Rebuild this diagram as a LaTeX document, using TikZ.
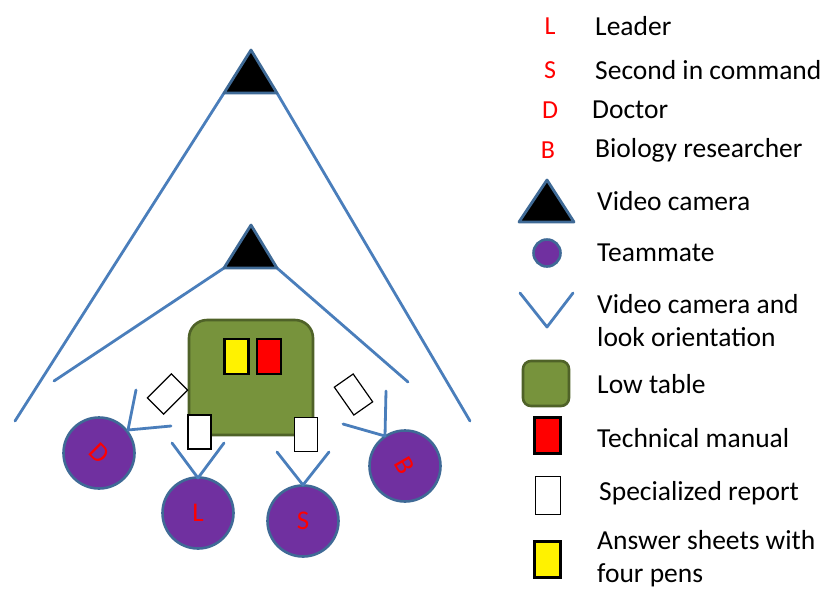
\documentclass[tikz,border=0pt]{standalone}
\usepackage{fontspec}
\setmainfont{Carlito}
\definecolor{lineblue}{HTML}{4A7EBB}
\definecolor{edgeblue}{HTML}{3F6A96}
\definecolor{mate}{HTML}{7030A0}
\definecolor{tablegreen}{HTML}{77933C}
\definecolor{tableedge}{HTML}{4F6228}
\tikzset{
  view/.style={draw=lineblue, line width=2.8pt, line cap=round, line join=round},
  cam/.style={fill=black, draw=edgeblue, line width=2.8pt, line join=round},
  mate/.style={circle, fill=mate, draw=edgeblue, line width=2.6pt, inner sep=0pt, text=red, font=\fontsize{27}{27}\selectfont},
  table/.style={rectangle, rounded corners=18pt, fill=tablegreen, draw=tableedge, line width=2.6pt, inner sep=0pt},
  book/.style={rectangle, draw=black, line width=2.8pt, inner sep=0pt, minimum width=24pt, minimum height=35pt},
  report/.style={rectangle, draw=black, line width=1.2pt, fill=white, inner sep=0pt, minimum width=23pt, minimum height=34pt},
  legtext/.style={anchor=west, font=\fontsize{27.5}{33}\selectfont, align=left, inner sep=0pt},
  legletter/.style={text=red, font=\fontsize{26}{26}\selectfont, inner sep=0pt}
}
\begin{document}
\begin{tikzpicture}[x=1pt,y=-1pt]
\useasboundingbox (0,0) rectangle (827,590);
% cameras and views
\coordinate (c1l) at (224,93); \coordinate (c1r) at (277,93); \coordinate (c1t) at (251,50);
\coordinate (v1l) at (15,421); \coordinate (v1r) at (470,421);
\coordinate (c2l) at (224,268); \coordinate (c2r) at (277,268); \coordinate (c2t) at (251,225);
\coordinate (v2l) at (54,381); \coordinate (v2r) at (408,382);
\draw[view] (v1l) -- (c1l); \draw[view] (c1r) -- (v1r);
\draw[view] (v2l) -- (c2l); \draw[view] (c2r) -- (v2r);
\draw[cam] (c1t) -- (c1r) -- (c1l) -- cycle;
\draw[cam] (c2t) -- (c2r) -- (c2l) -- cycle;
% table
\node[table, minimum width=124pt, minimum height=115pt] (tbl) at (251,377.5) {};
\node[book, fill=yellow] (ans) at (236.5,356.5) {};
\node[book, fill=red] (man) at (269,356.5) {};
% reports
\node[report] (r1) at (199.5,432) {};
\node[report] (r2) at (306,434.5) {};
\node[report, rotate=-45] (r3) at (167.5,394) {};
\node[report, rotate=35] (r4) at (353.5,394.5) {};
% teammates
\node[mate, minimum size=71pt] (D) at (99,453) {\rotatebox{-45}{D}};
\node[mate, minimum size=71pt] (L) at (198,513) {L};
\node[mate, minimum size=71pt] (S) at (303,521) {S};
\node[mate, minimum size=71pt] (B) at (405,466) {\rotatebox{-60}{B}};
% look orientations
\coordinate (dt) at (128,430); \coordinate (da) at (136,390); \coordinate (db) at (171,426);
\draw[view] (da) -- (dt) -- (db);
\coordinate (lt) at (198,478); \coordinate (la) at (172,443); \coordinate (lb) at (224,443);
\draw[view] (la) -- (lt) -- (lb);
\coordinate (st) at (303,485); \coordinate (sa) at (277,452); \coordinate (sb) at (329,452);
\draw[view] (sa) -- (st) -- (sb);
\coordinate (bt) at (385,436); \coordinate (ba) at (386,391); \coordinate (bb) at (343,424);
\draw[view] (ba) -- (bt) -- (bb);
% legend
\node[legletter] (kL) at (550,26) {L};
\node[legtext] (tL) at (595,26) {Leader};
\node[legletter] (kS) at (550,70) {S};
\node[legtext] (tS) at (595,70) {Second in command};
\node[legletter] (kD) at (550,110) {D};
\node[legtext] (tD) at (592,110) {Doctor};
\node[legletter] (kB) at (548,150) {B};
\node[legtext] (tB) at (595,150) {Biology researcher};
\coordinate (kct) at (547,180); \coordinate (kcl) at (519,222); \coordinate (kcr) at (574,222);
\draw[cam] (kct) -- (kcr) -- (kcl) -- cycle;
\node[legtext] (tC) at (597,201) {Video camera};
\node[mate, minimum size=27pt] (kM) at (547,253) {};
\node[legtext] (tM) at (597,253) {Teammate};
\coordinate (kva) at (520,293); \coordinate (kvt) at (547,327); \coordinate (kvb) at (573,293);
\draw[view] (kva) -- (kvt) -- (kvb);
\node[legtext] (tV) at (597,321) {Video camera and\\look orientation};
\node[table, rounded corners=8pt, minimum width=46pt, minimum height=45pt] (kT) at (546,383.5) {};
\node[legtext] (tT) at (597,384) {Low table};
\node[book, fill=red, minimum width=26pt, minimum height=36pt] (kR) at (547.5,435.5) {};
\node[legtext] (tR) at (597,438) {Technical manual};
\node[report, minimum width=25pt, minimum height=38pt] (kW) at (548,495.5) {};
\node[legtext] (tW) at (599,493) {Specialized report};
\node[book, fill=yellow, minimum width=26pt, minimum height=36pt] (kY) at (547.5,559.5) {};
\node[legtext] (tY) at (597,559) {Answer sheets with\\four pens};
\end{tikzpicture}
\end{document}
